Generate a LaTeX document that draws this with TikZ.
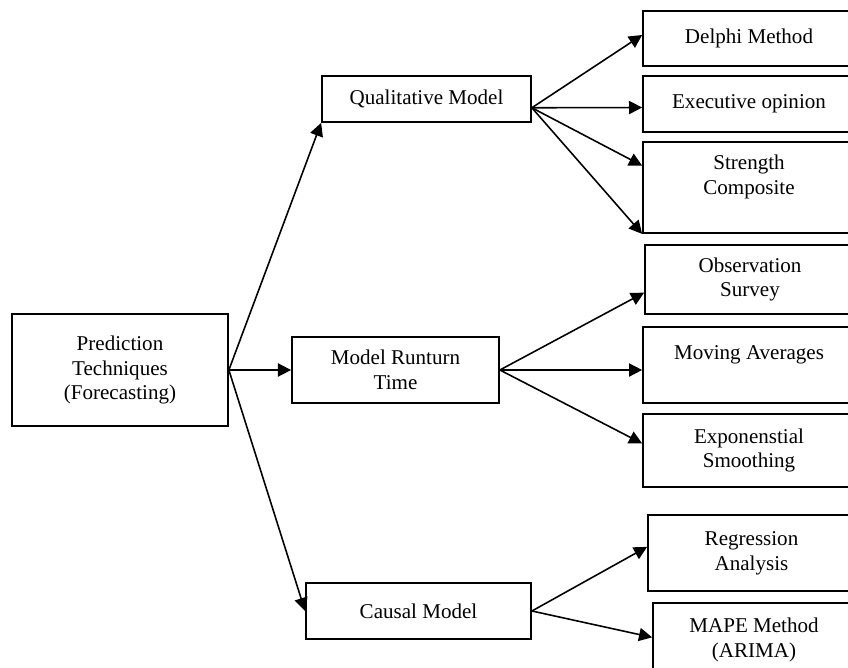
\documentclass[tikz,border=0pt]{standalone}
\usepackage{fontspec}
\setmainfont{Liberation Serif}
\usetikzlibrary{positioning, arrows.meta, calc}

\begin{document}
\begin{tikzpicture}[
			x=0.57pt, y=-0.57pt,
			box/.style={draw, line width=1pt, align=center, inner sep=0pt, font=\fontsize{12}{14.2}\selectfont},
			freccia/.style={->, line width=0.9pt},
			>={Triangle[length=7.5pt, width=7.5pt]}
			]
			\useasboundingbox (0,0) rectangle (848,668);
			\clip (0,0) rectangle (848,668);
			
			% Nodo radice
			\node[box, minimum width=123.1pt, minimum height=63.8pt] (pred) at (120,370) {Prediction\\Techniques\\(Forecasting)};
			
			% Modelli
			\node[box, minimum width=119.1pt, minimum height=26.2pt] (qual) at (426.5,99) {Qualitative Model};
			\node[box, minimum width=118pt, minimum height=37.6pt] (runturn) at (395.5,370) {Model Runturn\\Time};
			\node[box, minimum width=128.3pt, minimum height=31.9pt] (causal) at (418.5,611) {Causal Model};
			
			% Metodi qualitativi
			\node[box, minimum width=120.8pt, minimum height=31.4pt] (delphi) at (749,38.5) {Delphi Method};
			\node[box, minimum width=120.8pt, minimum height=31.9pt] (exec) at (749,104) {Executive opinion};
			\node[box, minimum width=120.8pt, minimum height=51.9pt] (strength) at (749,187.5) {Strength\\Composite\\ \mbox{}};
			
			% Metodi runturn time
			\node[box, minimum width=119.7pt, minimum height=39.3pt] (obs) at (750,279.5) {Observation\\Survey};
			\node[box, minimum width=120.8pt, minimum height=43.3pt] (moving) at (749,365) {Moving Averages\\ \mbox{}};
			\node[box, minimum width=120.8pt, minimum height=41.6pt] (expo) at (749,450.5) {Exponenstial\\Smoothing};
			
			% Metodi causali
			\node[box, minimum width=118pt, minimum height=43.3pt] (regr) at (751.5,553) {Regression\\Analysis};
			\node[box, minimum width=115.1pt, minimum height=42.2pt] (mape) at (754,640) {MAPE Method\\(ARIMA)};
			
			% Frecce dalla radice
			\draw[freccia] (pred.east) -- (qual.south west);
			\draw[freccia] (pred.east) -- (runturn.west);
			\draw[freccia] (pred.east) -- (causal.west);
			
			% Frecce dal modello qualitativo
			\coordinate (qo) at ([yshift=-5pt]qual.east);
			\draw[freccia] (qo) -- ([yshift=2pt]delphi.west);
			\draw[freccia] (qo) -- ([yshift=-2pt]exec.west);
			\draw[freccia] (qo) -- ([yshift=-14pt]strength.north west);
			\draw[freccia] (qo) -- (strength.south west);
			
			% Frecce dal modello runturn
			\draw[freccia] (runturn.east) -- ([yshift=-7.5pt]obs.west);
			\draw[freccia] (runturn.east) -- (runturn.east -| moving.west);
			\draw[freccia] (runturn.east) -- ([yshift=4pt]expo.west);
			
			% Frecce dal modello causale
			\draw[freccia] (causal.east) -- ([yshift=3.5pt]regr.west);
			\draw[freccia] (causal.east) -- ([yshift=1.5pt]mape.west);
			
		\end{tikzpicture}
\end{document}
